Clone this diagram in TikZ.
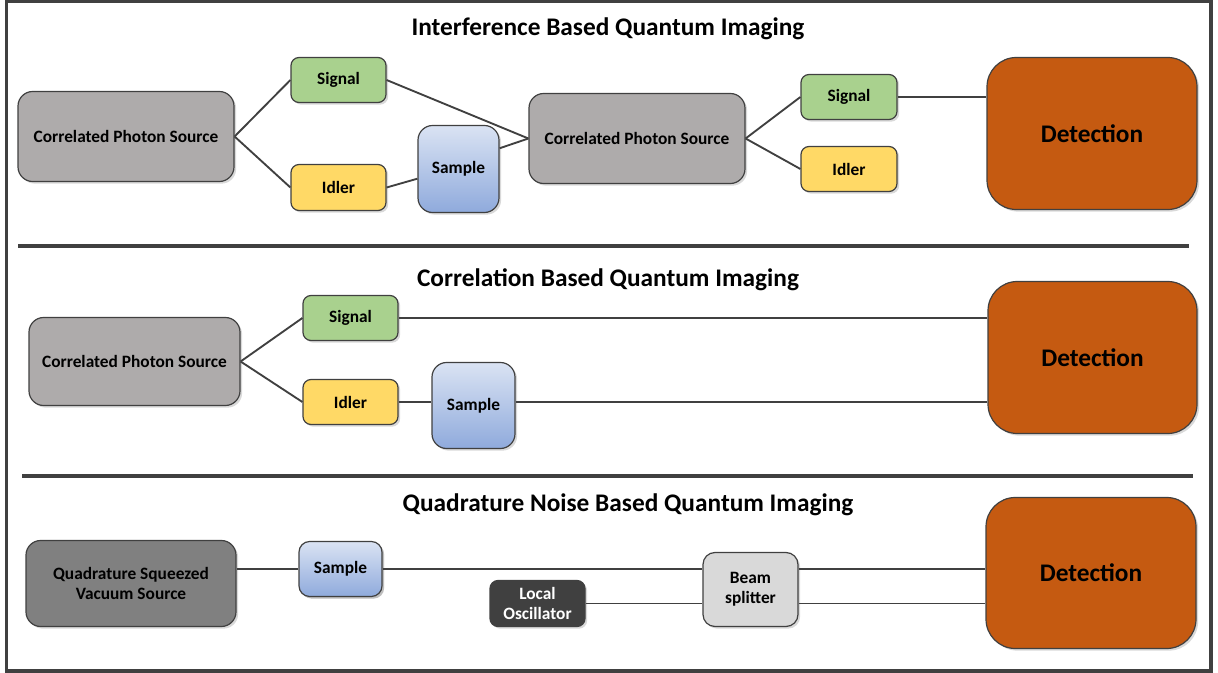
\documentclass[tikz,border=0pt]{standalone}
\usepackage{fontspec}
\setmainfont{Carlito}
\usetikzlibrary{shadows,calc}
\definecolor{lineC}{HTML}{404040}
\definecolor{cpsC}{HTML}{AEABAB}
\definecolor{sigC}{HTML}{A9D18E}
\definecolor{idlC}{HTML}{FFD966}
\definecolor{smpT}{HTML}{DAE3F3}
\definecolor{smpB}{HTML}{8FAADC}
\definecolor{detC}{HTML}{C55A11}
\definecolor{qsvC}{HTML}{808080}
\definecolor{loC}{HTML}{404040}
\definecolor{bsC}{HTML}{D9D9D9}
\tikzset{
  box/.style={draw=lineC, line width=0.9pt, rounded corners=#1, inner sep=0pt,
    font=\bfseries\fontsize{13}{15}\selectfont, align=center,
    drop shadow={opacity=0.3, shadow xshift=1.6pt, shadow yshift=-1.6pt}},
  area/.style args={#1/#2/#3/#4}{at={({(#1+#3)/2},{(#2+#4)/2+1.5})},
    minimum width={(#3-#1)*0.75pt}, minimum height={(#4-#2)*0.75pt}},
  cps/.style={box=11pt, fill=cpsC},
  sig/.style={box=6pt, fill=sigC},
  idl/.style={box=6pt, fill=idlC},
  smp/.style={box=11pt, top color=smpT, bottom color=smpB},
  det/.style={box=22pt, fill=detC, font=\bfseries\fontsize{19}{22}\selectfont},
  ttl/.style={font=\bfseries\fontsize{19}{22}\selectfont},
  conn/.style={draw=lineC, line width=1.4pt},
  sep/.style={draw=lineC, line width=3pt},
}
\begin{document}
\begin{tikzpicture}[x=0.75pt,y=-0.75pt]
\useasboundingbox (0,0) rectangle (1218,673);
\draw[lineC, line width=2.3pt] (6.5,1.5) rectangle (1211,671);
% ---------- Section 1
\node[ttl] (t1) at (608,29) {Interference Based Quantum Imaging};
\node[cps, area=18/90/234/180] (c1) {Correlated Photon Source};
\node[sig, area=291/56/386/101] (s1) {Signal};
\node[idl, area=291/163/386/209] (i1) {Idler};
\node[smp, area=418/124/499/211] (sa1) {Sample};
\node[cps, area=529/92/745/182] (c2) {Correlated Photon Source};
\node[sig, area=801/73/897/118] (s2) {Signal};
\node[idl, area=801/145/897/190] (i2) {Idler};
\node[det, area=987/56/1197/208] (d1) {Detection};
\draw[conn] (c1.east) -- (s1.west);
\draw[conn] (c1.east) -- (i1.west);
\draw[conn] (s1.east) -- (c2.west);
\draw[conn] (i1.east) -- ($(sa1.west)!0.22!(sa1.south west)$);
\draw[conn] ($(sa1.east)!0.47!(sa1.north east)$) -- (c2.west);
\draw[conn] (c2.east) -- (s2.west);
\draw[conn] (c2.east) -- (i2.west);
\draw[conn] (s2.east) -- (s2.east -| d1.west);
\draw[sep] (18,246) -- (1189,246);
% ---------- Section 2
\node[ttl] (t2) at (608,280) {Correlation Based Quantum Imaging};
\node[cps, area=29/316/240/404] (c3) {Correlated Photon Source};
\node[sig, area=303/294/398/339] (s3) {Signal};
\node[idl, area=303/378/398/423] (i3) {Idler};
\node[smp, area=432/361/515/447] (sa3) {Sample};
\node[det, area=988/280/1197/432] (d2) {Detection};
\draw[conn] (c3.east) -- (s3.west);
\draw[conn] (c3.east) -- (i3.west);
\draw[conn] (s3.east) -- (s3.east -| d2.west);
\draw[conn] (i3.east) -- (i3.east -| sa3.west);
\draw[conn] (i3.east -| sa3.east) -- (i3.east -| d2.west);
\draw[sep] (22,476) -- (1193,476);
% ---------- Section 3
\node[ttl] (t3) at (628,505) {Quadrature Noise Based Quantum Imaging};
\node[box=11pt, fill=qsvC, area=26/539/236/625] (q) {Quadrature Squeezed\\Vacuum Source};
\node[smp, box=8pt, area=299/540/382/595] (sa4) {Sample};
\node[box=6pt, fill=loC, text=white, area=490/579/585/625] (lo) {Local\\Oscillator};
\node[box=9pt, fill=bsC, area=703/551/798/625] (bs) {Beam\\splitter};
\node[det, area=986/496/1196/647] (d3) {Detection};
\draw[conn] (sa4.west -| q.east) -- (sa4.west);
\draw[conn] (sa4.east) -- (sa4.east -| bs.west);
\draw[conn] (lo.east) -- (lo.east -| bs.west);
\draw[conn] (sa4.east -| bs.east) -- (sa4.east -| d3.west);
\draw[conn] (lo.east -| bs.east) -- (lo.east -| d3.west);
\end{tikzpicture}
\end{document}
